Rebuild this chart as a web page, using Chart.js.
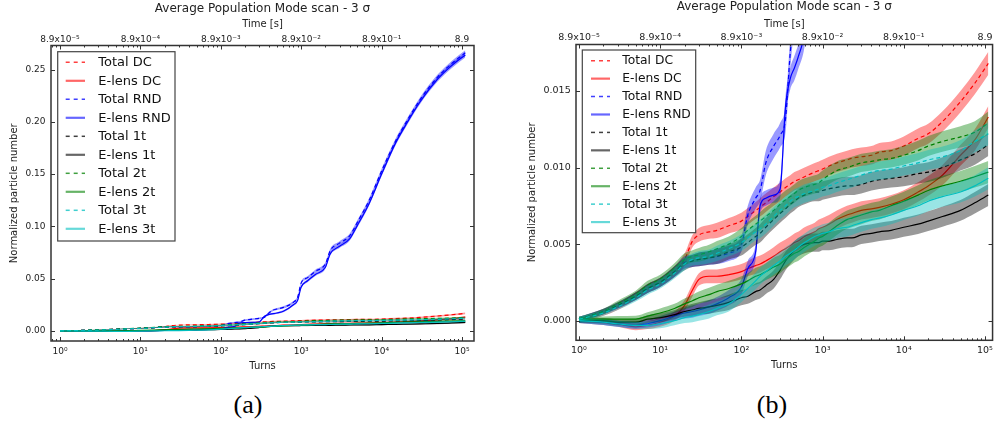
<!DOCTYPE html>
<html><head><meta charset="utf-8">
<script src="https://cdn.jsdelivr.net/npm/chart.js@4.4.0/dist/chart.umd.min.js"></script>
<style>
html,body{margin:0;padding:0;background:#fff;width:998px;height:425px;overflow:hidden;}
canvas{position:absolute;top:0;}
#ca{left:0;}
#cb{left:500px;}
.cap{position:absolute;top:390px;height:30px;line-height:30px;font-family:'Liberation Serif','Times New Roman',serif;font-size:26px;color:#000;width:60px;text-align:center;}
</style></head><body>
<canvas id="ca" width="500" height="380"></canvas>
<canvas id="cb" width="498" height="380"></canvas>
<div class="cap" style="left:218px">(a)</div>
<div class="cap" style="left:742px">(b)</div>
<script>
// ---------- data ----------
const turns = [
  1, 2, 3, 5, 7,
  10, 15, 20, 25, 30,
  40, 50, 70, 100, 120,
  150, 170, 200, 250, 300,
  350, 400, 450, 500, 600,
  800, 900, 1000, 1200, 1500,
  2000, 2300, 3000, 4000, 5000,
  7000, 10000, 15000, 20000, 30000,
  50000, 75000, 110000];

const totalDC = [
  0.0000, 0.0005, 0.0009, 0.0016, 0.0021,
  0.0025, 0.0032, 0.0040, 0.0052, 0.0056,
  0.0058, 0.0059, 0.0062, 0.0065, 0.0068,
  0.0072, 0.0074, 0.0077, 0.0081, 0.0084,
  0.0087, 0.0089, 0.0091, 0.0092, 0.0094,
  0.0097, 0.0098, 0.0099, 0.0101, 0.0103,
  0.0105, 0.0106, 0.0107, 0.0108, 0.0110,
  0.0111, 0.0114, 0.0119, 0.0122, 0.0130,
  0.0143, 0.0155, 0.0168];
const elensDC = [
  0.0000, -0.0001, -0.0002, -0.0004, -0.0003,
  -0.0001, 0.0003, 0.0010, 0.0020, 0.0027,
  0.0029, 0.0029, 0.0030, 0.0032, 0.0034,
  0.0036, 0.0037, 0.0039, 0.0042, 0.0045,
  0.0047, 0.0049, 0.0051, 0.0052, 0.0055,
  0.0058, 0.0060, 0.0061, 0.0063, 0.0066,
  0.0069, 0.0070, 0.0072, 0.0073, 0.0074,
  0.0076, 0.0079, 0.0084, 0.0088, 0.0095,
  0.0108, 0.0118, 0.0133];
const totalRND = [
  0.0001, 0.0006, 0.0010, 0.0016, 0.0021,
  0.0025, 0.0032, 0.0038, 0.0039, 0.0040,
  0.0041, 0.0042, 0.0044, 0.0050, 0.0069,
  0.0080, 0.0085, 0.0103, 0.0114, 0.0121,
  0.0132, 0.0175, 0.0200, 0.0210, 0.0225,
  0.0275, 0.0320, 0.0460, 0.0510, 0.0570,
  0.0640, 0.0770, 0.0840, 0.0910, 0.1040,
  0.1250, 0.1530, 0.1820, 0.1990, 0.2210,
  0.2430, 0.2560, 0.2660];
const elensRND = [
  0.0000, -0.0001, -0.0002, -0.0003, -0.0002,
  0.0000, 0.0003, 0.0005, 0.0006, 0.0007,
  0.0009, 0.0011, 0.0015, 0.0022, 0.0034,
  0.0045, 0.0075, 0.0080, 0.0082, 0.0086,
  0.0140, 0.0158, 0.0165, 0.0172, 0.0188,
  0.0250, 0.0290, 0.0420, 0.0480, 0.0540,
  0.0610, 0.0740, 0.0810, 0.0880, 0.1010,
  0.1220, 0.1500, 0.1800, 0.1970, 0.2190,
  0.2410, 0.2540, 0.2640];
const total1t = [
  0.0001, 0.0006, 0.0010, 0.0016, 0.0021,
  0.0025, 0.0032, 0.0037, 0.0039, 0.0040,
  0.0041, 0.0042, 0.0045, 0.0048, 0.0051,
  0.0055, 0.0057, 0.0061, 0.0066, 0.0070,
  0.0073, 0.0076, 0.0078, 0.0080, 0.0082,
  0.0084, 0.0084, 0.0085, 0.0086, 0.0087,
  0.0088, 0.0088, 0.0089, 0.0091, 0.0092,
  0.0093, 0.0094, 0.0096, 0.0097, 0.0100,
  0.0105, 0.0109, 0.0115];
const elens1t = [
  0.0000, 0.0000, -0.0001, -0.0001, 0.0001,
  0.0002, 0.0004, 0.0006, 0.0007, 0.0008,
  0.0009, 0.0010, 0.0012, 0.0015, 0.0016,
  0.0019, 0.0020, 0.0023, 0.0027, 0.0033,
  0.0039, 0.0043, 0.0046, 0.0048, 0.0050,
  0.0051, 0.0051, 0.0052, 0.0052, 0.0053,
  0.0054, 0.0054, 0.0056, 0.0057, 0.0058,
  0.0059, 0.0061, 0.0063, 0.0065, 0.0068,
  0.0072, 0.0077, 0.0082];
const total2t = [
  0.0001, 0.0006, 0.0011, 0.0017, 0.0023,
  0.0027, 0.0034, 0.0040, 0.0042, 0.0043,
  0.0045, 0.0047, 0.0050, 0.0055, 0.0059,
  0.0063, 0.0065, 0.0068, 0.0072, 0.0076,
  0.0079, 0.0081, 0.0083, 0.0085, 0.0087,
  0.0089, 0.0090, 0.0092, 0.0095, 0.0098,
  0.0100, 0.0101, 0.0103, 0.0104, 0.0105,
  0.0106, 0.0108, 0.0111, 0.0114, 0.0117,
  0.0120, 0.0123, 0.0129];
const elens2t = [
  0.0001, 0.0001, 0.0001, 0.0001, 0.0003,
  0.0005, 0.0008, 0.0011, 0.0013, 0.0015,
  0.0017, 0.0019, 0.0021, 0.0024, 0.0026,
  0.0029, 0.0030, 0.0032, 0.0035, 0.0037,
  0.0040, 0.0042, 0.0044, 0.0045, 0.0048,
  0.0052, 0.0054, 0.0055, 0.0058, 0.0062,
  0.0066, 0.0067, 0.0069, 0.0071, 0.0072,
  0.0075, 0.0078, 0.0082, 0.0085, 0.0088,
  0.0091, 0.0094, 0.0097];
const total3t = [
  0.0001, 0.0005, 0.0009, 0.0015, 0.0020,
  0.0024, 0.0031, 0.0037, 0.0040, 0.0041,
  0.0042, 0.0044, 0.0047, 0.0051, 0.0054,
  0.0058, 0.0060, 0.0063, 0.0068, 0.0072,
  0.0075, 0.0078, 0.0080, 0.0081, 0.0083,
  0.0085, 0.0086, 0.0087, 0.0088, 0.0090,
  0.0092, 0.0093, 0.0095, 0.0097, 0.0098,
  0.0099, 0.0101, 0.0103, 0.0105, 0.0107,
  0.0111, 0.0117, 0.0122];
const elens3t = [
  0.0000, -0.0001, -0.0002, -0.0003, -0.0003,
  -0.0002, 0.0000, 0.0002, 0.0003, 0.0004,
  0.0006, 0.0008, 0.0011, 0.0017, 0.0021,
  0.0026, 0.0029, 0.0032, 0.0036, 0.0039,
  0.0042, 0.0044, 0.0046, 0.0048, 0.0051,
  0.0055, 0.0056, 0.0057, 0.0058, 0.0060,
  0.0061, 0.0062, 0.0064, 0.0066, 0.0067,
  0.0069, 0.0072, 0.0075, 0.0078, 0.0081,
  0.0084, 0.0088, 0.0093];

// half-widths of the shaded bands (estimated per group)
const bandTotal = [
  0.00015, 0.00018, 0.00020, 0.00025, 0.00030,
  0.00030, 0.00035, 0.00040, 0.00040, 0.00045,
  0.00045, 0.00050, 0.00050, 0.00055, 0.00055,
  0.00055, 0.00060, 0.00060, 0.00060, 0.00060,
  0.00060, 0.00060, 0.00060, 0.00060, 0.00060,
  0.00060, 0.00060, 0.00060, 0.00060, 0.00060,
  0.00060, 0.00060, 0.00060, 0.00060, 0.00060,
  0.00060, 0.00062, 0.00064, 0.00065, 0.00067,
  0.00070, 0.00072, 0.00075];
const bandElens = [
  0.00015, 0.00018, 0.00020, 0.00022, 0.00025,
  0.00030, 0.00030, 0.00035, 0.00040, 0.00040,
  0.00045, 0.00045, 0.00050, 0.00050, 0.00050,
  0.00055, 0.00055, 0.00055, 0.00060, 0.00060,
  0.00060, 0.00060, 0.00060, 0.00060, 0.00060,
  0.00060, 0.00060, 0.00060, 0.00060, 0.00060,
  0.00060, 0.00060, 0.00060, 0.00060, 0.00060,
  0.00060, 0.00062, 0.00064, 0.00065, 0.00066,
  0.00068, 0.00070, 0.00072];
const bandTotalRND = [
  0.00015, 0.00018, 0.00020, 0.00025, 0.00030,
  0.00030, 0.00035, 0.00040, 0.00040, 0.00045,
  0.00045, 0.00050, 0.00050, 0.00050, 0.00060,
  0.00070, 0.00070, 0.00080, 0.00080, 0.00080,
  0.00090, 0.00100, 0.00100, 0.00100, 0.00110,
  0.00120, 0.00130, 0.00140, 0.00140, 0.00150,
  0.00160, 0.00170, 0.00180, 0.00190, 0.00200,
  0.00200, 0.00210, 0.00220, 0.00220, 0.00230,
  0.00240, 0.00250, 0.00250];
const bandElensRND = [
  0.00015, 0.00018, 0.00020, 0.00022, 0.00025,
  0.00030, 0.00030, 0.00035, 0.00040, 0.00040,
  0.00045, 0.00045, 0.00050, 0.00050, 0.00050,
  0.00050, 0.00050, 0.00050, 0.00050, 0.00060,
  0.00070, 0.00070, 0.00080, 0.00080, 0.00090,
  0.00100, 0.00110, 0.00120, 0.00130, 0.00140,
  0.00150, 0.00160, 0.00170, 0.00180, 0.00190,
  0.00190, 0.00200, 0.00210, 0.00210, 0.00220,
  0.00230, 0.00240, 0.00240];

const seriesNames = ['Total DC','E-lens DC','Total RND','E-lens RND','Total 1t','E-lens 1t','Total 2t','E-lens 2t','Total 3t','E-lens 3t'];
const seriesValues = [totalDC, elensDC, totalRND, elensRND, total1t, elens1t, total2t, elens2t, total3t, elens3t];
const seriesBands = [bandTotal, bandElens, bandTotalRND, bandElensRND, bandTotal, bandElens, bandTotal, bandElens, bandTotal, bandElens];

// tick labels
const turnLabels = ['10\u2070','10\u00b9','10\u00b2','10\u00b3','10\u2074','10\u2075'];
const timeLabels = ['8.9x10\u207b\u2075','8.9x10\u207b\u2074','8.9x10\u207b\u00b3','8.9x10\u207b\u00b2','8.9x10\u207b\u00b9','8.9'];
const yTicksA = [0, 0.05, 0.10, 0.15, 0.20, 0.25];
const yLabelsA = ['0.00','0.05','0.10','0.15','0.20','0.25'];
const yTicksB = [0, 0.005, 0.010, 0.015];
const yLabelsB = ['0.000','0.005','0.010','0.015'];

// ---------- styles ----------
const lineColors = ['#ff0000','#ff0000','#0000ff','#0000ff','#000000','#000000','#008000','#008000','#00bfbf','#00bfbf'];
const fillColors = ['rgba(255,0,0,0.4)','rgba(255,0,0,0.4)','rgba(0,0,255,0.4)','rgba(0,0,255,0.4)','rgba(0,0,0,0.4)','rgba(0,0,0,0.4)','rgba(0,128,0,0.4)','rgba(0,128,0,0.4)','rgba(0,191,191,0.4)','rgba(0,191,191,0.4)'];
const dashed = [true,false,true,false,true,false,true,false,true,false];
const FONT = 'DejaVu Sans';
const TXT = '#222';

function isDecade(v){ const l = Math.log10(v); return Math.abs(l - Math.round(l)) < 1e-6; }
function logTicks(min, max){
  const out = [];
  for (let k = -1; k <= 6; k++) for (let m = 1; m <= 9; m++) {
    const v = m * Math.pow(10, k);
    if (v >= min && v <= max) out.push(v);
  }
  return out;
}

function buildDatasets(){
  const ds = [];
  seriesValues.forEach((vals, s) => {
    const band = seriesBands[s];
    ds.push({ data: turns.map((t,i)=>({x:t, y: vals[i]-band[i]})), borderColor:'rgba(0,0,0,0)', borderWidth:0, fill:false, order: 100-2*s });
    ds.push({ data: turns.map((t,i)=>({x:t, y: vals[i]+band[i]})), borderColor:'rgba(0,0,0,0)', borderWidth:0, backgroundColor: fillColors[s], fill:'-1', order: 100-2*s });
    ds.push({ data: turns.map((t,i)=>({x:t, y: vals[i]})), borderColor: lineColors[s], borderWidth:1.2, borderDash: dashed[s] ? [4,3] : [], fill:false, order: 99-2*s });
  });
  return ds;
}

const frameTicks = {
  id: 'frameTicks',
  afterDatasetsDraw(chart){
    const {ctx, chartArea: a, scales} = chart;
    const x = scales.x, y = scales.y;
    ctx.save();
    ctx.strokeStyle = '#333'; ctx.lineWidth = 1; ctx.setLineDash([]);
    ctx.beginPath();
    x.ticks.forEach(t => {
      const px = Math.round(x.getPixelForValue(t.value)) + 0.5;
      const len = isDecade(t.value) ? 4 : 2;
      ctx.moveTo(px, a.bottom); ctx.lineTo(px, a.bottom - len);
      ctx.moveTo(px, a.top); ctx.lineTo(px, a.top + len);
    });
    y.ticks.forEach(t => {
      const py = Math.round(y.getPixelForValue(t.value)) + 0.5;
      ctx.moveTo(a.left, py); ctx.lineTo(a.left + 4, py);
      ctx.moveTo(a.right, py); ctx.lineTo(a.right - 4, py);
    });
    ctx.stroke();
    ctx.lineWidth = 1.5; ctx.strokeStyle = '#333';
    ctx.strokeRect(a.left, a.top, a.right - a.left, a.bottom - a.top);
    ctx.restore();
  }
};

const boxLegend = {
  id: 'boxLegend',
  afterDraw(chart, args, o){
    if (!o || !o.w) return;
    const ctx = chart.ctx;
    ctx.save();
    ctx.fillStyle = '#fff';
    ctx.fillRect(o.x, o.y, o.w, o.h);
    ctx.strokeStyle = '#444'; ctx.lineWidth = 1.2; ctx.setLineDash([]);
    ctx.strokeRect(o.x, o.y, o.w, o.h);
    ctx.font = o.font + 'px "' + FONT + '"';
    ctx.textBaseline = 'middle'; ctx.textAlign = 'left';
    seriesNames.forEach((name, i) => {
      const cy = o.y0 + i * o.dy;
      ctx.save();
      ctx.globalAlpha = dashed[i] ? 0.75 : 0.6;
      ctx.strokeStyle = lineColors[i];
      ctx.lineWidth = dashed[i] ? 1.5 : 2.2;
      ctx.setLineDash(dashed[i] ? [4,4] : []);
      ctx.beginPath(); ctx.moveTo(o.lx0, cy); ctx.lineTo(o.lx1, cy); ctx.stroke();
      ctx.restore();
      ctx.fillStyle = '#111';
      ctx.fillText(name, o.tx, cy + 0.5);
    });
    ctx.restore();
  }
};

function makeChart(id, g){
  const xt = logTicks(g.xMin, g.xMax);
  return new Chart(document.getElementById(id), {
    type: 'line',
    data: { datasets: buildDatasets() },
    plugins: [frameTicks, boxLegend],
    options: {
      responsive: false, animation: false, events: [], devicePixelRatio: 1,
      layout: { padding: g.pad },
      elements: { point: { radius: 0 }, line: { cubicInterpolationMode: 'monotone' } },
      plugins: {
        legend: { display: false }, tooltip: { enabled: false },
        title: { display: true, fullSize: false, text: 'Average Population Mode scan - 3 \u03c3', color: TXT,
                 font: { family: FONT, size: 12, weight: 'normal' }, padding: g.titlePad },
        boxLegend: g.legend
      },
      scales: {
        x: {
          type: 'logarithmic', position: 'bottom', min: g.xMin, max: g.xMax,
          grid: { display: false, drawTicks: false }, border: { display: false },
          afterBuildTicks: s => { s.ticks = xt.map(v => ({ value: v })); },
          afterFit: s => { s.height = 32; },
          ticks: { autoSkip: false, maxRotation: 0, minRotation: 0, padding: g.botTickPad, color: TXT,
                   font: { family: FONT, size: g.tickFont },
                   callback: v => isDecade(v) ? turnLabels[Math.round(Math.log10(v))] : '' },
          title: { display: true, text: 'Turns', color: TXT, font: { family: FONT, size: 10 }, padding: { top: 0, bottom: 1 } }
        },
        x2: {
          type: 'logarithmic', position: 'top', axis: 'x', min: g.xMin, max: g.xMax,
          grid: { display: false, drawTicks: false }, border: { display: false },
          afterBuildTicks: s => { s.ticks = xt.map(v => ({ value: v })); },
          afterFit: s => { s.height = g.x2H; },
          ticks: { autoSkip: false, maxRotation: 0, minRotation: 0, padding: g.topTickPad, color: TXT,
                   font: { family: FONT, size: g.tickFont },
                   callback: v => isDecade(v) ? timeLabels[Math.round(Math.log10(v))] : '' },
          title: { display: true, text: 'Time [s]', color: TXT, font: { family: FONT, size: 10 }, padding: { top: g.timePad, bottom: 0 } }
        },
        y: {
          type: 'linear', position: 'left', min: g.yMin, max: g.yMax,
          grid: { display: false, drawTicks: false }, border: { display: false },
          afterBuildTicks: s => { s.ticks = g.yTicks.map(v => ({ value: v })); },
          afterFit: s => { s.width = g.yW; },
          ticks: { padding: g.yTickPad, color: TXT, font: { family: FONT, size: g.tickFont },
                   callback: (v, i) => g.yLabels[i] },
          title: { display: true, text: 'Normalized particle number', color: TXT, font: { family: FONT, size: 10 }, padding: { top: g.yTitlePad, bottom: 0 } }
        }
      }
    }
  });
}

makeChart('ca', {
  pad: { left: 0, right: 26, top: 0, bottom: 7 },
  titlePad: { top: 1.3, bottom: 1 }, x2H: 28.8, timePad: 1.3, topTickPad: 0.6, botTickPad: 5,
  yW: 51, yTickPad: 5.5, yTitlePad: 8, tickFont: 9,
  xMin: 0.7729, xMax: 141000, yMin: -0.0096, yMax: 0.273,
  yTicks: yTicksA, yLabels: yLabelsA,
  legend: { x: 57.7, y: 51.7, w: 117.3, h: 189.3, lx0: 65.7, lx1: 85, tx: 98.3, y0: 62.3, dy: 18.5, font: 13 }
});
makeChart('cb', {
  pad: { left: 0, right: 1, top: 0, bottom: 7.7 },
  titlePad: { top: 0, bottom: 1 }, x2H: 29.1, timePad: 2.6, topTickPad: 1.6, botTickPad: 5,
  yW: 76, yTickPad: 5.3, yTitlePad: 26.3, tickFont: 9.5,
  xMin: 0.919, xMax: 124100, yMin: -0.00128, yMax: 0.01803,
  yTicks: yTicksB, yLabels: yLabelsB,
  legend: { x: 82.3, y: 50, w: 113.4, h: 182.7, lx0: 91, lx1: 110, tx: 122.3, y0: 60.7, dy: 17.93, font: 12.3 }
});
</script>
</body></html>
